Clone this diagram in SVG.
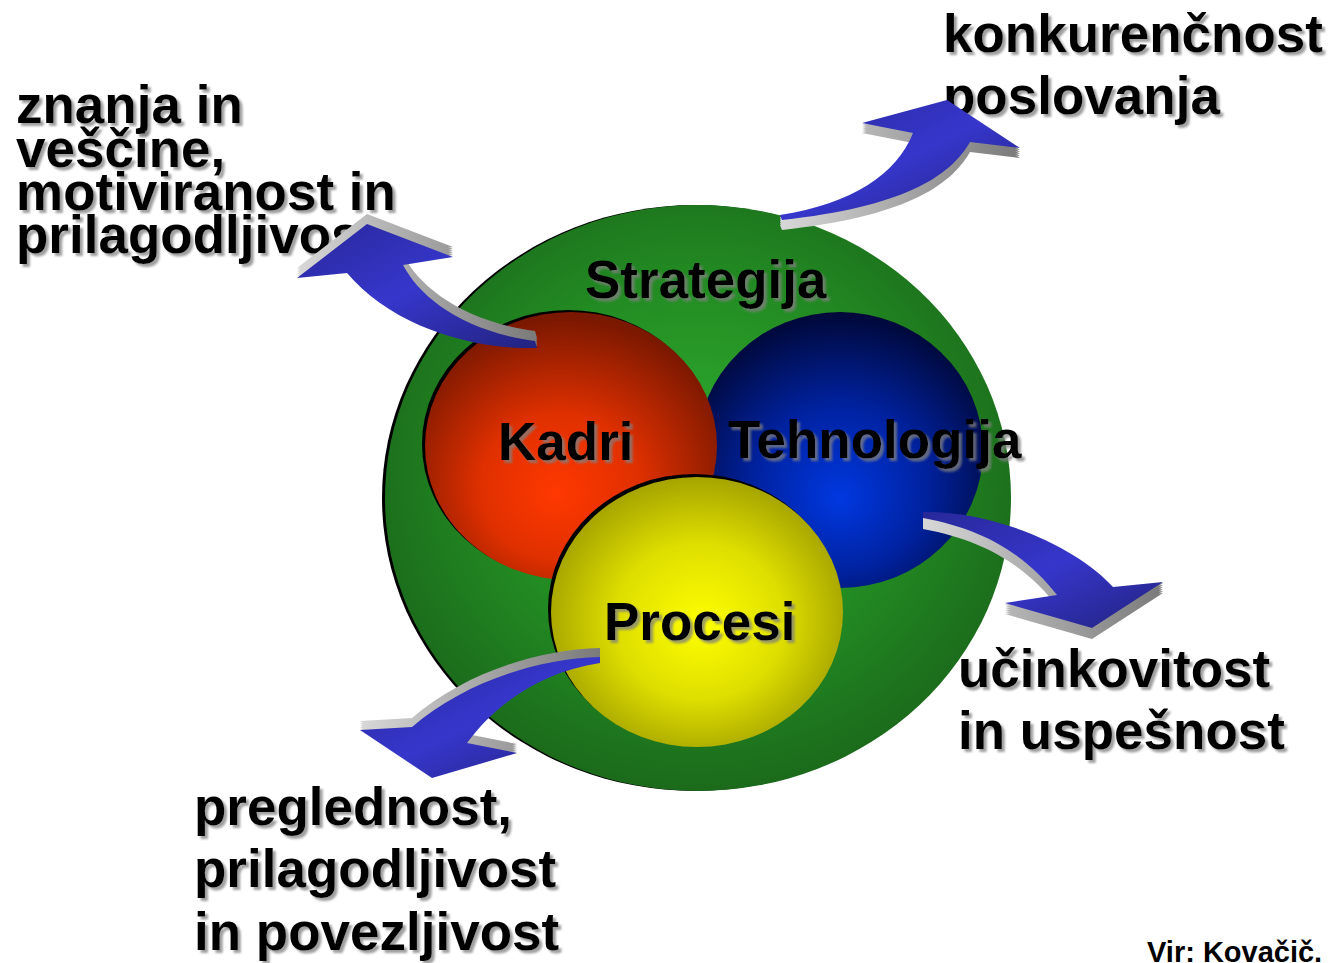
<svg xmlns="http://www.w3.org/2000/svg" width="1331" height="963" viewBox="0 0 1331 963">
<defs>
<style>
.t{font-family:"Liberation Sans",Arial,sans-serif;font-weight:bold;font-size:53px;fill:#000;filter:url(#ts)}
.src{font-family:"Liberation Sans",Arial,sans-serif;font-weight:bold;font-size:29px;fill:#000}
.face{fill:url(#blueG)}
.side{fill:url(#grayG)}
</style>
<filter id="ts" x="-5%" y="-20%" width="115%" height="150%">
<feDropShadow dx="3" dy="3" stdDeviation="1.3" flood-color="#808080" flood-opacity="0.75"/>
</filter>
<radialGradient id="greenG" cx="0.5" cy="0.45" r="0.55">
<stop offset="0" stop-color="#2fae2f"/>
<stop offset="0.6" stop-color="#228a22"/>
<stop offset="1" stop-color="#1b6a1b"/>
</radialGradient>
<radialGradient id="redG" cx="0.48" cy="0.62" r="0.6" fx="0.45" fy="0.68">
<stop offset="0" stop-color="#ff3800"/>
<stop offset="0.45" stop-color="#e03000"/>
<stop offset="1" stop-color="#7a1800"/>
</radialGradient>
<radialGradient id="blueG2" cx="0.5" cy="0.6" r="0.6" fx="0.5" fy="0.68">
<stop offset="0" stop-color="#0038e0"/>
<stop offset="0.5" stop-color="#0022a0"/>
<stop offset="1" stop-color="#000838"/>
</radialGradient>
<radialGradient id="yelG" cx="0.5" cy="0.52" r="0.58" fx="0.52" fy="0.55">
<stop offset="0" stop-color="#ffff00"/>
<stop offset="0.5" stop-color="#dede00"/>
<stop offset="1" stop-color="#989600"/>
</radialGradient>
<linearGradient id="blueG" x1="0" y1="0" x2="1" y2="1">
<stop offset="0" stop-color="#28289a"/>
<stop offset="0.5" stop-color="#3636cc"/>
<stop offset="1" stop-color="#22227e"/>
</linearGradient>
<linearGradient id="grayG" x1="0" y1="0" x2="1" y2="0">
<stop offset="0" stop-color="#d8d8d8"/>
<stop offset="0.5" stop-color="#a8a8a8"/>
<stop offset="1" stop-color="#7a7a7a"/>
</linearGradient>
<path id="a1" d="M297,278 L367,224 L453,257 L403,265 C420,297 462,331 535,341 L537,348 C468,350 390,324 347,273 Z"/>
<path id="a2" d="M862,123 L947,100 L1020,148 L970,142 C950,177 902,207 782,220 L780,215 C852,204 897,174 913,133 Z"/>
<path id="a3" d="M923,512 C1000,511 1080,550 1113,587 L1163,582 L1092,628 L1005,603 L1057,595 C1030,560 990,530 923,518 Z"/>
<path id="a4" d="M600,657 C530,659 460,686 412,727 L360,730 L432,778 L517,753 L467,743 C495,705 540,672 600,663 Z"/>
</defs>
<rect width="1331" height="963" fill="#fff"/>

<g id="strategija">
<ellipse cx="695" cy="498" rx="313" ry="293" fill="#000"/>
<ellipse cx="698" cy="498" rx="313" ry="293" fill="url(#greenG)"/>
<text class="t" x="585" y="298">Strategija</text>
</g>

<g id="tehnologija">
<ellipse cx="840" cy="450" rx="143" ry="138" fill="url(#blueG2)"/>
</g>

<g id="kadri">
<ellipse cx="568" cy="444" rx="146" ry="134" fill="#000"/>
<ellipse cx="571" cy="446" rx="146" ry="134" fill="url(#redG)"/>
<text class="t" x="498" y="460">Kadri</text>
</g>

<g id="procesi">
<ellipse cx="694" cy="609" rx="146" ry="135" fill="#000"/>
<ellipse cx="697" cy="612" rx="146" ry="135" fill="url(#yelG)"/>
<text class="t" x="604" y="640">Procesi</text>
</g>

<g id="tehnologija-label">
<text class="t" x="728" y="458">Tehnologija</text>
</g>

<g id="left-text">
<text class="t" x="16" y="123">znanja in</text>
<text class="t" x="16" y="167">veščine,</text>
<text class="t" x="16" y="210">motiviranost in</text>
<text class="t" x="16" y="253">prilagodljivost</text>
</g>

<g id="top-right-text">
<text class="t" x="943" y="52">konkurenčnost</text>
<text class="t" x="943" y="114">poslovanja</text>
</g>

<g id="right-text">
<text class="t" x="958" y="687">učinkovitost</text>
<text class="t" x="958" y="749">in uspešnost</text>
</g>

<g id="bottom-text">
<text class="t" x="194" y="825">preglednost,</text>
<text class="t" x="194" y="887">prilagodljivost</text>
<text class="t" x="194" y="950">in povezljivost</text>
</g>

<g id="source">
<text class="src" x="1147" y="962">Vir: Kovačič.</text>
</g>

<g id="connectors">
<g id="arrow1">
<use href="#a1" class="side" transform="translate(0,-10)"/>
<use href="#a1" class="side" transform="translate(0,-8)"/>
<use href="#a1" class="side" transform="translate(0,-6)"/>
<use href="#a1" class="side" transform="translate(0,-4)"/>
<use href="#a1" class="side" transform="translate(0,-2)"/>
<use href="#a1" class="face"/>
</g>
<g id="arrow2">
<use href="#a2" class="side" transform="translate(0,10)"/>
<use href="#a2" class="side" transform="translate(0,8)"/>
<use href="#a2" class="side" transform="translate(0,6)"/>
<use href="#a2" class="side" transform="translate(0,4)"/>
<use href="#a2" class="side" transform="translate(0,2)"/>
<use href="#a2" class="face"/>
</g>
<g id="arrow3">
<use href="#a3" class="side" transform="translate(0,11)"/>
<use href="#a3" class="side" transform="translate(0,9)"/>
<use href="#a3" class="side" transform="translate(0,7)"/>
<use href="#a3" class="side" transform="translate(0,5)"/>
<use href="#a3" class="side" transform="translate(0,3)"/>
<use href="#a3" class="side" transform="translate(0,1)"/>
<use href="#a3" class="face"/>
</g>
<g id="arrow4">
<use href="#a4" class="side" transform="translate(0,-9)"/>
<use href="#a4" class="side" transform="translate(0,-7)"/>
<use href="#a4" class="side" transform="translate(0,-5)"/>
<use href="#a4" class="side" transform="translate(0,-3)"/>
<use href="#a4" class="side" transform="translate(0,-1)"/>
<use href="#a4" class="face"/>
</g>
</g>
</svg>
